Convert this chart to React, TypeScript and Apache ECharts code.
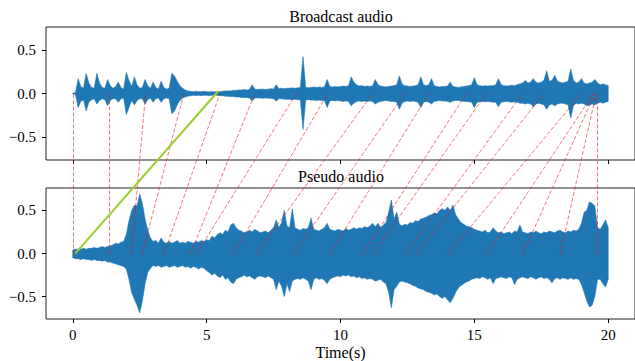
import { useEffect, useRef } from 'react';
import * as echarts from 'echarts';

// ---------- data ----------
const SAMPLE_STEP = 0.1; // seconds between envelope samples

// Broadcast audio: upper / lower envelope, t = 0 .. 20 s
const BROADCAST_UPPER = [
  0.005, 0.01, 0.17, 0.08, 0.06, 0.23, 0.12, 0.07, 0.06, 0.23,
  0.12, 0.07, 0.06, 0.16, 0.09, 0.06, 0.08, 0.13, 0.07, 0.05,
  0.24, 0.15, 0.08, 0.19, 0.1, 0.06, 0.07, 0.16, 0.09, 0.06,
  0.13, 0.07, 0.05, 0.14, 0.07, 0.05, 0.06, 0.23, 0.2, 0.14,
  0.09, 0.06, 0.04, 0.03, 0.025, 0.02, 0.025, 0.02, 0.02, 0.025,
  0.02, 0.02, 0.02, 0.02, 0.02, 0.02, 0.025, 0.03, 0.03, 0.03,
  0.035, 0.035, 0.04, 0.04, 0.045, 0.04, 0.045, 0.1, 0.05, 0.045,
  0.05, 0.05, 0.045, 0.05, 0.055, 0.05, 0.1, 0.055, 0.06, 0.055,
  0.06, 0.06, 0.065, 0.06, 0.065, 0.07, 0.42, 0.07, 0.065, 0.07,
  0.075, 0.07, 0.075, 0.07, 0.075, 0.16, 0.08, 0.075, 0.08, 0.075,
  0.08, 0.085, 0.08, 0.09, 0.19, 0.13, 0.1, 0.085, 0.09, 0.08,
  0.085, 0.08, 0.09, 0.16, 0.1, 0.085, 0.08, 0.075, 0.08, 0.085,
  0.09, 0.1, 0.2, 0.11, 0.09, 0.085, 0.08, 0.085, 0.09, 0.1,
  0.19, 0.1, 0.09, 0.1, 0.17, 0.09, 0.08, 0.075, 0.08, 0.08,
  0.085, 0.13, 0.08, 0.075, 0.07, 0.075, 0.08, 0.085, 0.09, 0.1,
  0.18, 0.1, 0.09, 0.085, 0.09, 0.085, 0.09, 0.09, 0.1, 0.17,
  0.1, 0.09, 0.085, 0.09, 0.095, 0.09, 0.1, 0.11, 0.12, 0.15,
  0.12, 0.13, 0.17, 0.13, 0.12, 0.13, 0.15, 0.26, 0.14, 0.15,
  0.21, 0.14, 0.13, 0.12, 0.13, 0.14, 0.28, 0.15, 0.12, 0.13,
  0.17, 0.12, 0.11, 0.12, 0.13, 0.16, 0.12, 0.1, 0.11, 0.1,
  0.09,
];
const BROADCAST_LOWER = [
  -0.005, -0.01, -0.16, -0.09, -0.07, -0.2, -0.1, -0.07, -0.06, -0.12,
  -0.08, -0.06, -0.07, -0.14, -0.08, -0.06, -0.06, -0.1, -0.06, -0.05,
  -0.24, -0.16, -0.08, -0.13, -0.08, -0.06, -0.06, -0.12, -0.07, -0.05,
  -0.1, -0.06, -0.05, -0.1, -0.06, -0.05, -0.06, -0.23, -0.2, -0.13,
  -0.08, -0.05, -0.04, -0.03, -0.025, -0.02, -0.025, -0.02, -0.025, -0.02,
  -0.02, -0.025, -0.02, -0.02, -0.02, -0.025, -0.025, -0.03, -0.03, -0.035,
  -0.035, -0.04, -0.04, -0.045, -0.045, -0.045, -0.05, -0.085, -0.05, -0.05,
  -0.05, -0.055, -0.05, -0.055, -0.055, -0.06, -0.085, -0.06, -0.06, -0.065,
  -0.065, -0.065, -0.07, -0.065, -0.07, -0.07, -0.41, -0.075, -0.07, -0.075,
  -0.075, -0.08, -0.075, -0.08, -0.08, -0.16, -0.085, -0.08, -0.085, -0.08,
  -0.085, -0.09, -0.085, -0.09, -0.14, -0.11, -0.09, -0.085, -0.09, -0.085,
  -0.09, -0.085, -0.09, -0.12, -0.1, -0.09, -0.085, -0.08, -0.085, -0.09,
  -0.09, -0.1, -0.18, -0.11, -0.09, -0.085, -0.09, -0.085, -0.09, -0.1,
  -0.16, -0.1, -0.09, -0.1, -0.12, -0.09, -0.085, -0.08, -0.085, -0.085,
  -0.09, -0.1, -0.085, -0.08, -0.08, -0.085, -0.09, -0.09, -0.095, -0.1,
  -0.16, -0.1, -0.095, -0.09, -0.095, -0.09, -0.095, -0.1, -0.1, -0.15,
  -0.1, -0.095, -0.09, -0.095, -0.1, -0.095, -0.1, -0.11, -0.11, -0.12,
  -0.11, -0.12, -0.15, -0.12, -0.11, -0.12, -0.13, -0.18, -0.13, -0.12,
  -0.14, -0.12, -0.11, -0.11, -0.12, -0.13, -0.28, -0.14, -0.11, -0.12,
  -0.11, -0.12, -0.14, -0.13, -0.12, -0.13, -0.11, -0.1, -0.11, -0.1,
  -0.09,
];

// Pseudo audio: upper / lower envelope, t = 0 .. 20 s
const PSEUDO_UPPER = [
  0.04, 0.05, 0.05, 0.05, 0.06, 0.05, 0.06, 0.06, 0.07, 0.06,
  0.07, 0.08, 0.07, 0.08, 0.09, 0.1, 0.12, 0.11, 0.13, 0.14,
  0.22, 0.38, 0.5, 0.56, 0.55, 0.69, 0.58, 0.4, 0.27, 0.18,
  0.14, 0.15, 0.12, 0.18, 0.13, 0.12, 0.14, 0.12, 0.13, 0.15,
  0.12, 0.13, 0.12, 0.14, 0.13, 0.12, 0.14, 0.13, 0.15, 0.14,
  0.16, 0.15, 0.2, 0.18, 0.22, 0.24, 0.22, 0.27, 0.25, 0.33,
  0.35, 0.3, 0.27, 0.26, 0.24, 0.25, 0.27, 0.25, 0.28, 0.26,
  0.24, 0.25, 0.26, 0.24, 0.27, 0.3, 0.39, 0.3, 0.36, 0.5,
  0.32, 0.3, 0.52, 0.3, 0.28, 0.27, 0.29, 0.28, 0.3, 0.41,
  0.28, 0.27, 0.26, 0.28, 0.3, 0.35, 0.28, 0.27, 0.26, 0.28,
  0.27, 0.26, 0.29, 0.27, 0.28, 0.3, 0.28, 0.3, 0.29, 0.31,
  0.3, 0.32, 0.35, 0.31, 0.35, 0.3, 0.33, 0.36, 0.48, 0.62,
  0.4, 0.48, 0.34, 0.32, 0.34, 0.33, 0.36, 0.35, 0.38, 0.37,
  0.4, 0.41, 0.42, 0.44, 0.45, 0.47, 0.46, 0.5, 0.52, 0.5,
  0.54, 0.5, 0.56, 0.45, 0.4, 0.36, 0.34, 0.32, 0.31, 0.3,
  0.28, 0.27, 0.26, 0.25, 0.27, 0.24, 0.25, 0.3, 0.26, 0.24,
  0.25, 0.23, 0.24, 0.25, 0.23, 0.26, 0.25, 0.33, 0.25, 0.24,
  0.23, 0.25, 0.24, 0.26, 0.24, 0.23, 0.25, 0.24, 0.26, 0.25,
  0.24, 0.26, 0.27, 0.25, 0.24, 0.26, 0.25, 0.27, 0.26, 0.28,
  0.35, 0.48, 0.5, 0.6, 0.58, 0.55, 0.3, 0.28, 0.33, 0.39,
  0.3,
];
const PSEUDO_LOWER = [
  -0.05, -0.06, -0.06, -0.07, -0.06, -0.07, -0.07, -0.08, -0.07, -0.08,
  -0.08, -0.09, -0.08, -0.1, -0.1, -0.11, -0.12, -0.13, -0.14, -0.15,
  -0.18, -0.3, -0.45, -0.53, -0.6, -0.69, -0.55, -0.35, -0.22, -0.17,
  -0.14, -0.15, -0.14, -0.16, -0.15, -0.14, -0.16, -0.15, -0.14, -0.16,
  -0.15, -0.14, -0.16, -0.15, -0.17, -0.15, -0.16, -0.18, -0.16, -0.17,
  -0.2, -0.22, -0.25, -0.23, -0.26, -0.28, -0.25, -0.3, -0.28, -0.33,
  -0.35, -0.3, -0.28, -0.27, -0.25, -0.27, -0.26, -0.28, -0.3, -0.27,
  -0.26, -0.27, -0.28, -0.26, -0.28, -0.3, -0.42, -0.32, -0.38, -0.5,
  -0.35, -0.44, -0.32, -0.3, -0.29, -0.3, -0.28, -0.3, -0.32, -0.42,
  -0.3, -0.28, -0.3, -0.29, -0.31, -0.35, -0.3, -0.28, -0.27, -0.26,
  -0.27, -0.25, -0.26, -0.25, -0.27, -0.26, -0.28, -0.27, -0.29, -0.28,
  -0.3, -0.29, -0.3, -0.32, -0.31, -0.3, -0.33, -0.35, -0.45, -0.63,
  -0.42, -0.38, -0.33, -0.32, -0.33, -0.34, -0.35, -0.37, -0.38, -0.4,
  -0.41, -0.42, -0.44, -0.45, -0.46, -0.48, -0.47, -0.5, -0.52, -0.5,
  -0.54, -0.57, -0.52, -0.45, -0.4, -0.37, -0.35, -0.33, -0.32, -0.3,
  -0.29, -0.28, -0.29, -0.27, -0.28, -0.3, -0.28, -0.35, -0.29, -0.28,
  -0.27, -0.28, -0.29, -0.27, -0.28, -0.36, -0.3, -0.28, -0.27, -0.28,
  -0.29, -0.27, -0.28, -0.3, -0.28, -0.27, -0.29, -0.28, -0.3, -0.34,
  -0.29, -0.28, -0.3, -0.28, -0.29, -0.3, -0.28, -0.3, -0.29, -0.3,
  -0.36, -0.45, -0.55, -0.62, -0.6, -0.5, -0.3, -0.3, -0.35, -0.39,
  -0.3,
];

// alignment links: time on pseudo audio (bottom) -> time on broadcast audio (top)
const LINK_PSEUDO_T = [0, 1.38, 2.19, 2.59, 3.4, 4.39, 4.61, 5.98, 6.84, 8.23, 9.59, 10.83, 11.2, 12.41, 12.82, 14.0, 15.46, 16.8, 18.2, 19.6];
const LINK_BROADCAST_T = [0, 1.38, 2.72, 4.15, 5.5, 6.8, 8.35, 9.53, 11.2, 12.4, 13.3, 14.7, 15.45, 16.8, 17.6, 19.0, 19.45, 19.5, 19.55, 19.6];
// green (start) link: [time, value] on pseudo and on broadcast
const GREEN_PSEUDO = [0.09, 0.01];
const GREEN_BROADCAST = [5.43, 0.026];

const X_TICKS = [0, 5, 10, 15, 20];
const Y_TICKS = [-0.5, 0, 0.5];
const TITLES = ['Broadcast audio', 'Pseudo audio'];
const X_NAME = 'Time(s)';

// ---------- layout ----------
const X_MIN = -1;
const X_MAX = 21;
const Y_MIN = -0.76;
const Y_MAX = 0.76;
const LEFT = 46;
const WIDTH = 590;
const TOP1 = 27;
const H = 133;
const GAP = 28;
const TOP2 = TOP1 + H + GAP;
const SPAN = Y_MAX - Y_MIN;
// overlay grid spanning both panels, expressed in pseudo-panel units
const OVERLAY_MAX = Y_MIN + (SPAN * (2 * H + GAP)) / H;
const BROADCAST_OFFSET = (SPAN * (H + GAP)) / H;

const FONT = 'Liberation Serif';
const BLUE = '#1f77b4';

const envelope = (upper: number[], lower: number[]) => (_params: any, api: any) => {
  const pts: number[][] = [];
  for (let i = 0; i < upper.length; i++) pts.push(api.coord([i * SAMPLE_STEP, upper[i]]));
  for (let i = lower.length - 1; i >= 0; i--) pts.push(api.coord([i * SAMPLE_STEP, lower[i]]));
  return {
    type: 'polygon',
    shape: { points: pts },
    style: { fill: BLUE, stroke: BLUE, lineWidth: 0.6 },
  };
};

const fmtY = (v: number) => (v === 0 ? '0.0' : v.toFixed(1).replace('-', '\u2212'));

const makeXAxis = (gridIndex: number, labels: boolean) => ({
  type: 'value',
  gridIndex,
  min: X_MIN,
  max: X_MAX,
  axisLine: { show: false, onZero: false },
  splitLine: { show: false },
  axisTick: { show: true, customValues: X_TICKS, length: 4, lineStyle: { color: '#000', width: 1 } },
  axisLabel: {
    show: labels,
    customValues: X_TICKS,
    margin: 8,
    color: '#000',
    fontFamily: FONT,
    fontSize: 15,
  },
  ...(labels
    ? {
        name: X_NAME,
        nameLocation: 'middle',
        nameGap: 25,
        nameTextStyle: { color: '#000', fontFamily: FONT, fontSize: 16 },
      }
    : {}),
});

const makeYAxis = (gridIndex: number) => ({
  type: 'value',
  gridIndex,
  min: Y_MIN,
  max: Y_MAX,
  axisLine: { show: false, onZero: false },
  splitLine: { show: false },
  axisTick: { show: true, customValues: Y_TICKS, length: 4, lineStyle: { color: '#000', width: 1 } },
  axisLabel: {
    customValues: Y_TICKS,
    formatter: fmtY,
    margin: 10,
    color: '#000',
    fontFamily: FONT,
    fontSize: 15,
  },
});

export default function App() {
  const ref = useRef<HTMLDivElement>(null);
  useEffect(() => {
    const chart = echarts.init(ref.current!, null, { renderer: 'svg' });
    const gridBase = { left: LEFT, width: WIDTH, height: H, show: true, borderColor: '#222', borderWidth: 1, backgroundColor: 'transparent' };
    chart.setOption({
      animation: false,
      backgroundColor: '#fff',
      grid: [
        { ...gridBase, top: TOP1 },
        { ...gridBase, top: TOP2 },
        { left: LEFT, width: WIDTH, top: TOP1, height: 2 * H + GAP, show: false },
      ],
      xAxis: [
        makeXAxis(0, false),
        makeXAxis(1, true),
        { type: 'value', gridIndex: 2, min: X_MIN, max: X_MAX, show: false },
      ],
      yAxis: [
        makeYAxis(0),
        makeYAxis(1),
        { type: 'value', gridIndex: 2, min: Y_MIN, max: OVERLAY_MAX, show: false },
      ],
      graphic: [
        {
          type: 'text',
          x: LEFT + 295,
          y: 16,
          style: { text: TITLES[0], fontFamily: FONT, fontSize: 16, fill: '#000', align: 'center', verticalAlign: 'middle' },
        },
        {
          type: 'text',
          x: LEFT + 295,
          y: 176,
          style: { text: TITLES[1], fontFamily: FONT, fontSize: 16, fill: '#000', align: 'center', verticalAlign: 'middle' },
        },
      ],
      series: [
        {
          type: 'custom',
          xAxisIndex: 0,
          yAxisIndex: 0,
          data: [[0, 0]],
          renderItem: envelope(BROADCAST_UPPER, BROADCAST_LOWER),
          silent: true,
          z: 2,
        },
        {
          type: 'custom',
          xAxisIndex: 1,
          yAxisIndex: 1,
          data: [[0, 0]],
          renderItem: envelope(PSEUDO_UPPER, PSEUDO_LOWER),
          silent: true,
          z: 2,
        },
        {
          type: 'lines',
          coordinateSystem: 'cartesian2d',
          xAxisIndex: 2,
          yAxisIndex: 2,
          silent: true,
          z: 5,
          lineStyle: { color: 'rgba(238,24,24,0.6)', width: 1, type: [4, 2], opacity: 1 },
          data: LINK_PSEUDO_T.map((tb, i) => ({
            coords: [
              [tb, 0],
              [LINK_BROADCAST_T[i], BROADCAST_OFFSET],
            ],
          })),
        },
        {
          type: 'lines',
          coordinateSystem: 'cartesian2d',
          xAxisIndex: 2,
          yAxisIndex: 2,
          silent: true,
          z: 6,
          lineStyle: { color: '#9acd32', width: 2, type: 'solid', opacity: 1 },
          data: [
            {
              coords: [
                [GREEN_PSEUDO[0], GREEN_PSEUDO[1]],
                [GREEN_BROADCAST[0], GREEN_BROADCAST[1] + BROADCAST_OFFSET],
              ],
            },
          ],
        },
      ],
    });
    return () => chart.dispose();
  }, []);
  return (
    <div
      ref={ref}
      style={{ position: 'absolute', left: 0, top: 0, width: 635, height: 361, background: '#fff' }}
    />
  );
}
